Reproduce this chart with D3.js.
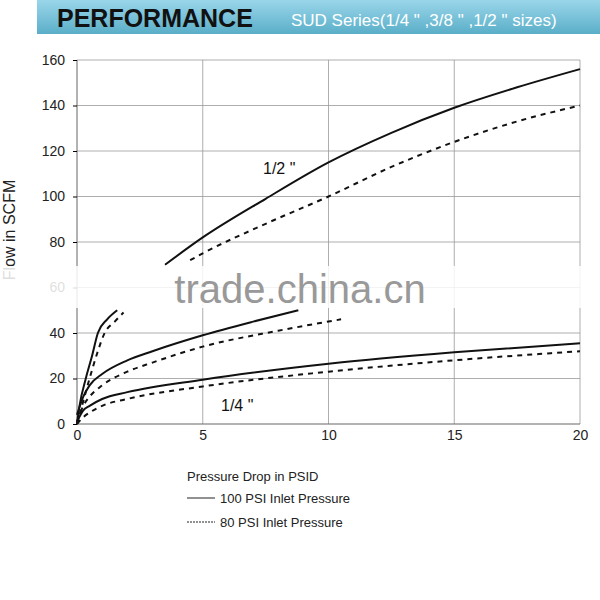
<!DOCTYPE html>
<html><head><meta charset="utf-8">
<script src="https://cdn.jsdelivr.net/npm/d3@7"></script>
<style>body{margin:0;background:#fff}svg{font-family:Arial,"Liberation Sans",sans-serif}</style>
</head><body><svg width="600" height="600"></svg>
<script>
const xTicks = [0, 5, 10, 15, 20];
const yTicks = [0, 20, 40, 60, 80, 100, 120, 140, 160];

// [pressure drop, flow]
const half100 = [[3.5,70],[5,82],[7.5,99],[10,115],[12.5,128],[15,139],[17.5,148],[20,156]];
const half80 = [[4.5,72],[5,75],[7.5,88],[10,100],[12.5,113],[15,124],[17.5,133],[20,140]];
const small100 = [[0,0],[0.1,8],[0.35,20],[0.6,30],[0.83,40],[1.2,46],[1.6,50]];
const small80 = [[0,0],[0.15,6],[0.5,20],[0.8,31],[1.1,40],[1.5,45],[1.85,49]];
const mid100 = [[0,4],[0.25,12],[0.5,17],[1,22],[2,28],[3,32],[5,39],[7,45],[8.8,50]];
const mid80 = [[0,1],[0.25,8],[0.5,12],[1,17],[2,23],[3,27],[5,34],[8,41],[10.5,46]];
const quarter100 = [[0,1],[0.25,6],[0.5,8],[1,11],[2,14],[5,19.5],[10,26.5],[15,31.5],[20,35.5]];
const quarter80 = [[0,0],[0.25,3],[0.5,5],[1,8],[2,11],[5,16.5],[10,23],[15,28],[20,32]];

const svg = d3.select("svg");

const grad = svg.append("defs").append("linearGradient").attr("id", "hdr")
    .attr("x1", 0).attr("y1", 0).attr("x2", 0).attr("y2", 1);
grad.append("stop").attr("offset", "0%").attr("stop-color", "#9ad6ea");
grad.append("stop").attr("offset", "100%").attr("stop-color", "#5aaec8");
svg.append("rect").attr("x", 37).attr("y", 0).attr("width", 563).attr("height", 34).attr("fill", "url(#hdr)");
svg.append("text").attr("x", 57).attr("y", 27).attr("font-size", 25).attr("font-weight", "bold")
    .attr("fill", "#111").text("PERFORMANCE");
svg.append("text").attr("x", 291).attr("y", 26).attr("font-size", 17).attr("fill", "#fff")
    .text("SUD  Series(1/4 \" ,3/8 \" ,1/2 \" sizes)");

const x = d3.scaleLinear().domain([0, 20]).range([77, 580]);
const y = d3.scaleLinear().domain([0, 160]).range([424, 60]);

const grid = svg.append("g").attr("stroke", "#999").attr("stroke-width", 0.8);
grid.selectAll(".h").data(yTicks.slice(1)).join("line")
    .attr("x1", x(0)).attr("x2", x(20)).attr("y1", d => y(d)).attr("y2", d => y(d));
grid.selectAll(".v").data(xTicks.slice(1)).join("line")
    .attr("y1", y(0)).attr("y2", y(160)).attr("x1", d => x(d)).attr("x2", d => x(d));
svg.append("line").attr("x1", x(0)).attr("x2", x(0)).attr("y1", y(0)).attr("y2", y(160)).attr("stroke", "#666");
svg.append("line").attr("x1", x(0)).attr("x2", x(20)).attr("y1", y(0)).attr("y2", y(0)).attr("stroke", "#666");

svg.append("g").attr("transform", `translate(${x(0)},0)`)
    .call(d3.axisLeft(y).tickValues(yTicks).tickSize(4).tickPadding(8))
    .call(g => g.select(".domain").remove())
    .call(g => g.selectAll("text").attr("font-size", 14).attr("fill", "#222").attr("font-family", "Arial"));
svg.append("g").attr("transform", `translate(0,${y(0)})`)
    .call(d3.axisBottom(x).tickValues(xTicks).tickSize(0).tickPadding(6))
    .call(g => g.select(".domain").remove())
    .call(g => g.selectAll("text").attr("font-size", 14).attr("fill", "#222").attr("font-family", "Arial"));

svg.append("text").attr("transform", "translate(15,230) rotate(-90)").attr("text-anchor", "middle")
    .attr("font-size", 16).attr("fill", "#222").text("Flow in SCFM");

const line = d3.line().curve(d3.curveMonotoneX).x(d => x(d[0])).y(d => y(d[1]));
[half100, small100, mid100, quarter100].forEach(s =>
  svg.append("path").attr("d", line(s)).attr("fill", "none").attr("stroke", "#111").attr("stroke-width", 2));
[half80, small80, mid80, quarter80].forEach(s =>
  svg.append("path").attr("d", line(s)).attr("fill", "none").attr("stroke", "#111").attr("stroke-width", 2)
    .attr("stroke-dasharray", "5,5"));

svg.append("text").attr("x", 263).attr("y", 174).attr("font-size", 16).attr("fill", "#111").text("1/2 \"");
svg.append("text").attr("x", 221).attr("y", 411).attr("font-size", 16).attr("fill", "#111").text("1/4 \"");

// watermark band
svg.append("rect").attr("x", 0).attr("y", 266).attr("width", 600).attr("height", 42).attr("fill", "#fff").attr("opacity", 0.85);
svg.append("text").attr("x", 300).attr("y", 303).attr("text-anchor", "middle").attr("font-size", 40)
    .attr("fill", "#999").text("trade.china.cn");

const lg = svg.append("g").attr("font-size", 13).attr("fill", "#222");
lg.append("text").attr("x", 187).attr("y", 481).text("Pressure Drop in PSID");
lg.append("line").attr("x1", 187).attr("x2", 215).attr("y1", 498).attr("y2", 498).attr("stroke", "#222");
lg.append("text").attr("x", 220).attr("y", 503).text("100 PSI Inlet Pressure");
lg.append("line").attr("x1", 187).attr("x2", 215).attr("y1", 522).attr("y2", 522).attr("stroke", "#222").attr("stroke-dasharray", "2,1");
lg.append("text").attr("x", 220).attr("y", 527).text("80 PSI Inlet Pressure");
</script></body></html>
